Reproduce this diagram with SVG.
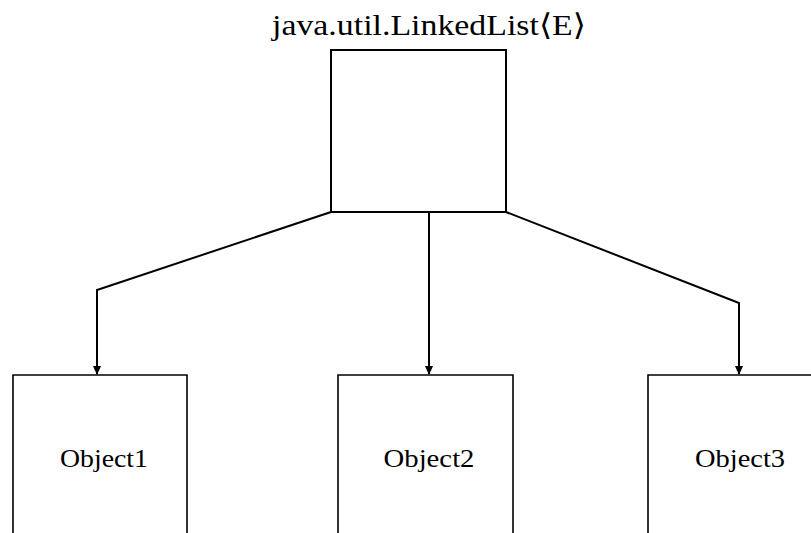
<svg xmlns="http://www.w3.org/2000/svg" width="811" height="533" viewBox="0 0 811 533">
<style>
.box{fill:none;stroke:#000;stroke-width:2}
.side{fill:none;stroke:#000;stroke-width:1.6}
.conn{fill:none;stroke:#000;stroke-width:2}
text{font-family:"Liberation Serif","DejaVu Serif",serif;fill:#000;text-anchor:middle}
.title{font-size:30px}
.lbl{font-size:26px}
</style>
<defs>
<marker id="arr" markerWidth="10" markerHeight="10" refX="8" refY="5" orient="auto" markerUnits="userSpaceOnUse">
<path d="M0,1 L9,5 L0,9 Z" fill="#000"/>
</marker>
</defs>
<rect width="811" height="533" fill="#fff"/>
<g id="linkedlist">
<text class="title" x="429" y="35" textLength="314" lengthAdjust="spacingAndGlyphs">java.util.LinkedList⟨E⟩</text>
<rect class="box" x="331" y="50" width="175" height="162"/>
</g>
<g id="object1">
<path class="side" d="M13,533 V375 H187 V533"/>
<text class="lbl" x="104" y="467" textLength="88" lengthAdjust="spacingAndGlyphs">Object1</text>
</g>
<g id="object2">
<path class="side" d="M338,533 V375 H513 V533"/>
<text class="lbl" x="429" y="467" textLength="91" lengthAdjust="spacingAndGlyphs">Object2</text>
</g>
<g id="object3">
<path class="side" d="M648,533 V375 H811"/>
<text class="lbl" x="740" y="467" textLength="90" lengthAdjust="spacingAndGlyphs">Object3</text>
</g>
<g id="connectors">
<path class="conn" d="M331,212 L97,290 V374" marker-end="url(#arr)"/>
<path class="conn" d="M429,212 V374" marker-end="url(#arr)"/>
<path class="conn" d="M506,212 L739,303 V374" marker-end="url(#arr)"/>
</g>
</svg>
